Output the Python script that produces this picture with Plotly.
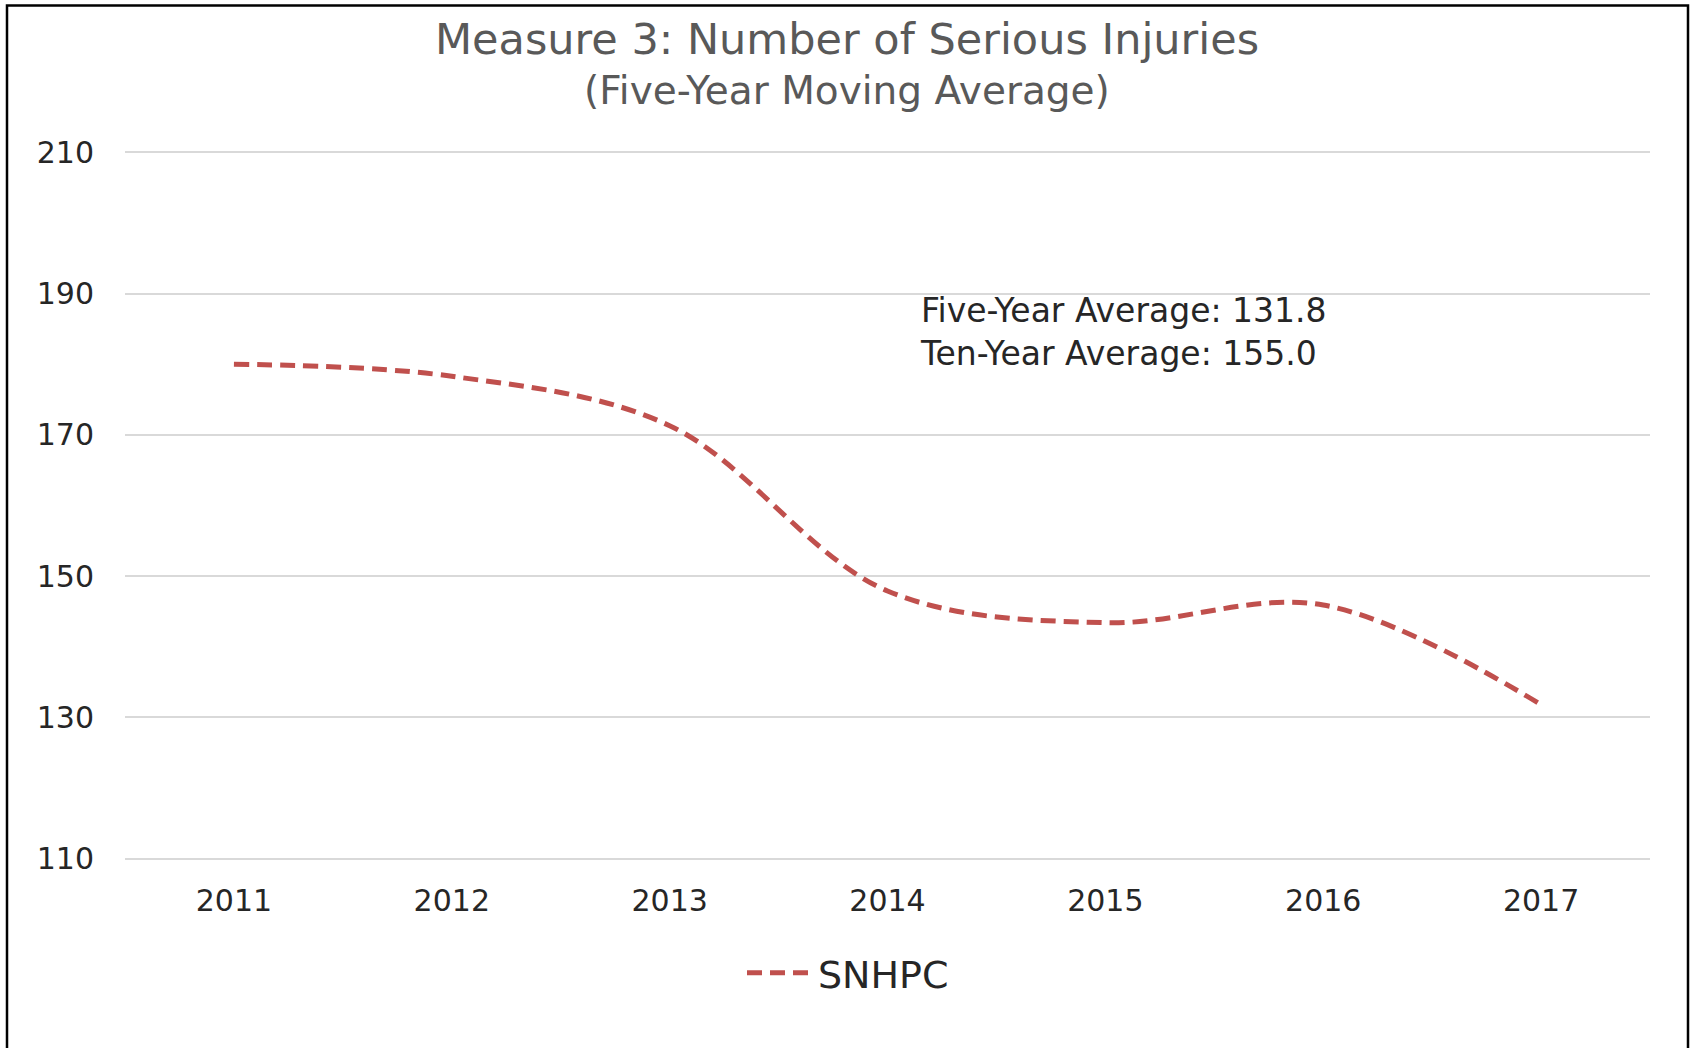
import plotly.graph_objects as go

years = ["2011", "2012", "2013", "2014", "2015", "2016", "2017"]
snhpc = [180.0, 178.3, 171.3, 147.9, 143.4, 145.9, 131.8]
y_ticks = [110, 130, 150, 170, 190, 210]
title_line1 = "Measure 3: Number of Serious Injuries"
title_line2 = "(Five-Year Moving Average)"
note_lines = ["Five-Year Average: 131.8", "Ten-Year Average: 155.0"]

FONT = "DejaVu Sans"
W, H = 1694, 1048
L, R, T, B = 125, 44, 151, 188
pw, ph = W - L - R, H - T - B

def px_x(p):
    return (p - L) / pw

def px_y(p):
    return (H - B - p) / ph

fig = go.Figure()
fig.add_trace(go.Scatter(
    x=years, y=snhpc, mode="lines", name="SNHPC",
    line=dict(color="#C0504D", width=5, dash="15px,8px", shape="spline", smoothing=1.0),
))

fig.update_layout(
    width=W, height=H,
    margin=dict(l=L, r=R, t=T, b=B),
    paper_bgcolor="white", plot_bgcolor="white",
    font=dict(family=FONT, color="#404040"),
    showlegend=True,
    legend=dict(orientation="h", x=px_x(848), xanchor="center", y=px_y(973), yanchor="middle",
                itemwidth=66,
                font=dict(size=38, color="#262626", family=FONT)),
    xaxis=dict(type="category", range=[-0.5, 6.5], showgrid=False, zeroline=False,
               showline=False, ticks="", tickfont=dict(size=30, color="#262626", family=FONT),
               ticklabelstandoff=20),
    yaxis=dict(range=[109.8, 210.2], tickvals=y_ticks, showgrid=True, gridcolor="#D9D9D9",
               gridwidth=1.5, zeroline=False, showline=False, ticks="",
               tickfont=dict(size=30, color="#262626", family=FONT), ticklabelstandoff=30),
)

fig.add_annotation(xref="paper", yref="paper", x=px_x(W / 2), y=px_y(39), text=title_line1,
                   showarrow=False, xanchor="center", yanchor="middle",
                   font=dict(size=43, color="#595959", family=FONT))
fig.add_annotation(xref="paper", yref="paper", x=px_x(W / 2), y=px_y(91), text=title_line2,
                   showarrow=False, xanchor="center", yanchor="middle",
                   font=dict(size=39, color="#595959", family=FONT))
fig.add_annotation(xref="paper", yref="paper", x=px_x(918), y=px_y(332),
                   text="<br>".join(note_lines), showarrow=False, xanchor="left",
                   yanchor="middle", align="left",
                   font=dict(size=33, color="#262626", family=FONT))

fig.add_shape(type="rect", xref="paper", yref="paper",
              x0=px_x(7), x1=px_x(1688), y0=px_y(1070), y1=px_y(5.5),
              line=dict(color="black", width=2.5), fillcolor="rgba(0,0,0,0)", layer="above")

fig.write_html("out.html", config={"displayModeBar": False},
               post_script="document.body.style.margin='0';document.body.style.overflow='hidden';")
